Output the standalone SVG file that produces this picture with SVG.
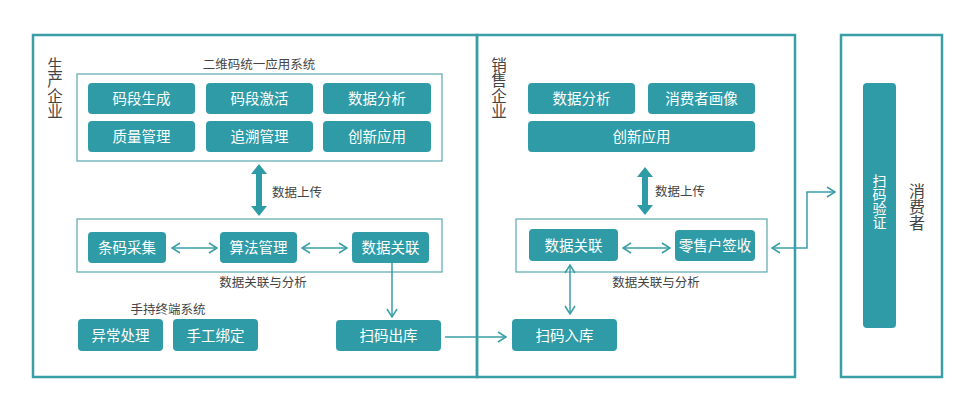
<svg xmlns="http://www.w3.org/2000/svg" width="972" height="411" viewBox="0 0 972 411">
<defs>
<style>
.frame{fill:none;stroke:#3a9ea6;stroke-width:2.5}
.inner{fill:none;stroke:#5aa9b0;stroke-width:1.2}
.btn{fill:#2f9ba6}
.bt{font-family:"Noto Sans CJK SC","Noto Sans",sans-serif;font-size:14.5px;fill:#ffffff;text-anchor:middle}
.vt{font-family:"Noto Sans CJK SC","Noto Sans",sans-serif;font-size:14px;fill:#ffffff;writing-mode:vertical-rl}
.lbl{font-family:"Noto Sans CJK SC","Noto Sans",sans-serif;font-size:12.5px;fill:#444444}
.big{font-family:"Noto Sans CJK SC","Noto Sans",sans-serif;font-size:15.5px;fill:#444444;writing-mode:vertical-rl}
.big2{font-family:"Noto Sans CJK SC","Noto Sans",sans-serif;font-size:16px;fill:#444444;writing-mode:vertical-rl}
.ln{fill:none;stroke:#3a9ea6;stroke-width:1.5}
.thick{fill:#2f9ba6}
</style>
<marker id="chev" viewBox="0 0 10 12" markerWidth="10" markerHeight="12" refX="9" refY="6" orient="auto-start-reverse" markerUnits="userSpaceOnUse">
<path d="M1,1 L9,6 L1,11" fill="none" stroke="#3a9ea6" stroke-width="1.5"/>
</marker>
</defs>
<rect width="972" height="411" fill="#ffffff"/>

<g id="producer">
<rect class="frame" x="33" y="35" width="444" height="342"/>
<text class="big" x="55" y="57">生产企业</text>
</g>

<g id="app-system">
<text class="lbl" x="259" y="69" text-anchor="middle">二维码统一应用系统</text>
<rect class="inner" x="77" y="74" width="365" height="87"/>
<g id="n-mdsc"><rect class="btn" x="88" y="83" width="107" height="31" rx="4"/><text class="bt" x="141.5" y="104">码段生成</text></g>
<g id="n-mdjh"><rect class="btn" x="206" y="83" width="107" height="31" rx="4"/><text class="bt" x="259.5" y="104">码段激活</text></g>
<g id="n-sjfx1"><rect class="btn" x="323" y="83" width="108" height="31" rx="4"/><text class="bt" x="377" y="104">数据分析</text></g>
<g id="n-zlgl"><rect class="btn" x="88" y="121" width="107" height="31" rx="4"/><text class="bt" x="141.5" y="142">质量管理</text></g>
<g id="n-zsgl"><rect class="btn" x="206" y="121" width="107" height="31" rx="4"/><text class="bt" x="259.5" y="142">追溯管理</text></g>
<g id="n-cxyy1"><rect class="btn" x="323" y="121" width="108" height="31" rx="4"/><text class="bt" x="377" y="142">创新应用</text></g>
</g>

<g id="assoc1">
<rect class="inner" x="77" y="219" width="365" height="53"/>
<text class="lbl" x="263" y="287" text-anchor="middle">数据关联与分析</text>
<g id="n-tmcj"><rect class="btn" x="88" y="232" width="78" height="31" rx="4"/><text class="bt" x="127" y="253">条码采集</text></g>
<g id="n-sfgl"><rect class="btn" x="220" y="232" width="77" height="31" rx="4"/><text class="bt" x="258.5" y="253">算法管理</text></g>
<g id="n-sjgl1"><rect class="btn" x="352" y="232" width="77" height="31" rx="4"/><text class="bt" x="390.5" y="253">数据关联</text></g>
</g>

<g id="handheld">
<text class="lbl" x="168" y="314" text-anchor="middle">手持终端系统</text>
<g id="n-ycl"><rect class="btn" x="78" y="319" width="85" height="32" rx="4"/><text class="bt" x="120.5" y="340.5">异常处理</text></g>
<g id="n-sgbd"><rect class="btn" x="173" y="319" width="85" height="32" rx="4"/><text class="bt" x="215.5" y="340.5">手工绑定</text></g>
</g>
<g id="n-smck"><rect class="btn" x="336" y="320" width="105" height="31" rx="4"/><text class="bt" x="388.5" y="341">扫码出库</text></g>

<g id="seller">
<rect class="frame" x="477" y="35" width="318" height="342"/>
<text class="big" x="499" y="57">销售企业</text>
</g>
<g id="seller-app">
<g id="n-sjfx2"><rect class="btn" x="528" y="83" width="107" height="31" rx="4"/><text class="bt" x="581.5" y="104">数据分析</text></g>
<g id="n-xfzhx"><rect class="btn" x="648" y="83" width="107" height="31" rx="4"/><text class="bt" x="701.5" y="104">消费者画像</text></g>
<g id="n-cxyy2"><rect class="btn" x="528" y="121" width="227" height="31" rx="4"/><text class="bt" x="641.5" y="142">创新应用</text></g>
</g>
<g id="assoc2">
<rect class="inner" x="516" y="219" width="251" height="53"/>
<text class="lbl" x="656" y="287" text-anchor="middle">数据关联与分析</text>
<g id="n-sjgl2"><rect class="btn" x="529" y="229" width="89" height="32" rx="4"/><text class="bt" x="573.5" y="250.5">数据关联</text></g>
<g id="n-lshqs"><rect class="btn" x="675" y="230" width="80" height="31" rx="4"/><text class="bt" x="715" y="251">零售户签收</text></g>
</g>
<g id="n-smrk"><rect class="btn" x="512" y="319" width="105" height="32" rx="4"/><text class="bt" x="564.5" y="340.5">扫码入库</text></g>

<g id="consumer">
<rect class="frame" x="841" y="35" width="101" height="342"/>
<rect class="btn" x="863" y="83" width="33" height="245" rx="4"/>
<text class="vt" x="879.5" y="174">扫码验证</text>
<text class="big2" x="917" y="183">消费者</text>
</g>

<g id="connectors">
<path class="thick" d="M259,164 L267,174 L262,174 L262,206 L267,206 L259,216 L251,206 L256,206 L256,174 L251,174 Z"/>
<text class="lbl" x="272" y="197">数据上传</text>
<path class="thick" d="M645,167 L653,177 L648,177 L648,205 L653,205 L645,215 L637,205 L642,205 L642,177 L637,177 Z"/>
<text class="lbl" x="655" y="196">数据上传</text>
<line class="ln" x1="172" y1="248" x2="217" y2="248" marker-start="url(#chev)" marker-end="url(#chev)"/>
<line class="ln" x1="302" y1="248" x2="347" y2="248" marker-start="url(#chev)" marker-end="url(#chev)"/>
<line class="ln" x1="392" y1="263" x2="392" y2="317" marker-end="url(#chev)"/>
<line class="ln" x1="445" y1="337" x2="506" y2="337" marker-end="url(#chev)"/>
<line class="ln" x1="623" y1="248" x2="670" y2="248" marker-start="url(#chev)" marker-end="url(#chev)"/>
<line class="ln" x1="570" y1="265" x2="570" y2="314" marker-start="url(#chev)" marker-end="url(#chev)"/>
<path class="ln" d="M772,248 L807,248 L807,192 L835,192" marker-start="url(#chev)" marker-end="url(#chev)"/>
</g>
</svg>
